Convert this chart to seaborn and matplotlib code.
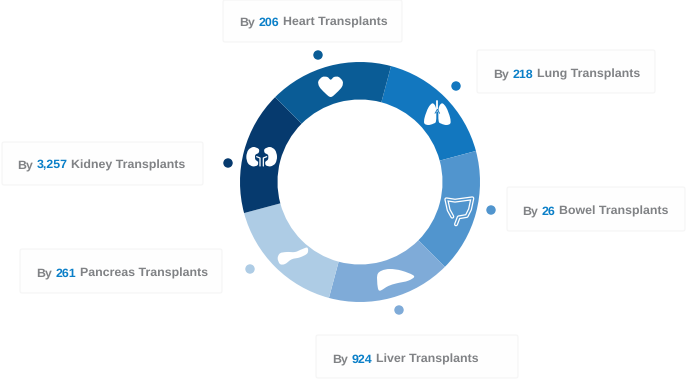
import matplotlib

matplotlib.use('Agg')
import matplotlib.pyplot as plt
import numpy as np
import pandas as pd
import seaborn as sns
from matplotlib.patches import FancyBboxPatch, PathPatch
from matplotlib.path import Path

# 图中每段大小相同，数字只出现在标签里
organs = ['Lung', 'Bowel', 'Liver', 'Pancreas', 'Kidney', 'Heart']
counts = ['218', '26', '924', '261', '3,257', '206']
slice_sizes = [1, 1, 1, 1, 1, 1]
colors = ['#1277BF', '#5195CE', '#7FABD8', '#AECCE5', '#063A6E', '#0A5C96']

# 卡片 (x0, y0, x1, y1)、文字起点、圆点，单位是像素
cards = [(477, 50, 655, 93), (507, 187, 685, 231), (316, 335, 518, 378),
         (20, 249, 222, 293), (2, 142, 203, 185), (223, 0, 402, 42)]
text_x = [493, 522, 332, 36, 17, 239]
text_y = [77.5, 214.5, 362.5, 276.5, 168.5, 25.5]
dot_x = [456, 491, 399, 250, 228, 318]
dot_y = [86, 210, 310, 269, 163, 55]

GREY = '#808285'
BLUE = '#0A7FC8'

sns.set_theme(style='white')
plt.rcParams['font.family'] = ['Liberation Sans', 'DejaVu Sans']
plt.rcParams['text.hinting'] = 'none'


def zoom_xy(pts):
    # 图标轮廓按放大图坐标描的，换回像素
    pts = np.array(pts, dtype=float)
    return np.column_stack([220 + pts[:, 0] / 3, 40 + pts[:, 1] / 3])


def smooth_shape(ax, pts, color='white'):
    pts = zoom_xy(pts)
    n = len(pts)
    verts = [pts[0]]
    codes = [Path.MOVETO]
    for i in range(n):
        p0, p1, p2, p3 = pts[i - 1], pts[i], pts[(i + 1) % n], pts[(i + 2) % n]
        verts += [p1 + (p2 - p0) / 6, p2 - (p3 - p1) / 6, p2]
        codes += [Path.CURVE4] * 3
    ax.add_patch(PathPatch(Path(verts, codes), fc=color, ec='none', zorder=5))


def line(ax, pts, color='white', lw=1.0):
    pts = zoom_xy(pts)
    ax.plot(pts[:, 0], pts[:, 1], color=color, lw=lw, zorder=6,
            solid_capstyle='round', solid_joinstyle='round')


def mirror(pts, cx):
    return [(2 * cx - x, y) for x, y in pts]


def draw_icons(ax):
    # heart
    smooth_shape(ax, [(332, 119), (342, 111), (356, 111), (368, 124), (366, 140), (350, 158),
                      (332, 171), (314, 158), (298, 140), (295, 124), (307, 111), (322, 111)])
    # lungs
    lung = [(638, 190), (625, 203), (614, 232), (613, 250), (625, 255), (640, 251), (648, 243),
            (648, 205)]
    smooth_shape(ax, lung)
    smooth_shape(ax, mirror(lung, 652))
    line(ax, [(652, 182), (652, 212)], lw=1.3)
    line(ax, [(652, 208), (645, 220)], color=colors[0], lw=0.6)
    line(ax, [(652, 208), (659, 220)], color=colors[0], lw=0.6)
    # bowel
    colon = [(697, 530), (686, 510), (679, 478), (705, 482), (757, 475), (750, 508), (740, 528),
             (716, 532), (708, 553)]
    line(ax, colon, lw=2.9)
    line(ax, colon, color=colors[1], lw=1.1)
    # liver
    smooth_shape(ax, [(472, 705), (485, 692), (510, 687), (545, 692), (582, 708), (565, 722),
                      (530, 730), (505, 738), (480, 752), (473, 740)])
    # pancreas
    smooth_shape(ax, [(173, 655), (180, 640), (200, 636), (225, 636), (245, 628), (262, 623),
                      (262, 640), (240, 652), (215, 658), (195, 672), (180, 672)])
    # kidneys
    kidney = [(100, 321), (85, 330), (79, 350), (84, 370), (98, 379), (112, 376), (114, 366),
              (106, 358), (106, 345), (116, 338), (116, 327)]
    smooth_shape(ax, kidney)
    smooth_shape(ax, mirror(kidney, 125))
    for side in [lambda p: p, lambda p: mirror(p, 125)]:
        line(ax, side([(110, 350), (120, 354), (120, 378)]), lw=0.9)


def label(ax, renderer, x, y, count, organ):
    # 数字要单独上色，所以分三段接着写
    space = 3.6
    for piece, col in [('By', GREY), (count, BLUE), (f'{organ} Transplants', GREY)]:
        t = ax.text(x, y, piece, color=col, fontsize=8.9, fontweight='bold',
                    ha='left', va='baseline', zorder=7)
        x += t.get_window_extent(renderer).width + space


fig = plt.figure(figsize=(6.89, 3.81), dpi=100)
ax = fig.add_axes([0, 0, 1, 1])

ax.pie(slice_sizes, colors=colors, center=(360, 182), radius=120, startangle=-75,
       wedgeprops={'width': 37.5, 'linewidth': 0})
# pie 会改坐标范围，这里改回像素
ax.set_xlim(0, 689)
ax.set_ylim(381, 0)
ax.set_aspect('auto')
ax.axis('off')

dots = pd.DataFrame({'x': dot_x, 'y': dot_y, 'organ': organs})
sns.scatterplot(data=dots, x='x', y='y', hue='organ', hue_order=organs, palette=colors,
                s=46, linewidth=0, legend=False, ax=ax, zorder=4)
ax.set_xlim(0, 689)
ax.set_ylim(381, 0)

for x0, y0, x1, y1 in cards:
    ax.add_patch(FancyBboxPatch((x0, y0), x1 - x0, y1 - y0, boxstyle='round,pad=0,rounding_size=2',
                                fc='#FEFEFE', ec='#F5F5F5', lw=0.8, zorder=2))

draw_icons(ax)

renderer = fig.canvas.get_renderer()
for i, organ in enumerate(organs):
    label(ax, renderer, text_x[i], text_y[i], counts[i], organ)

fig.savefig('out.png', dpi=100, facecolor='white')
